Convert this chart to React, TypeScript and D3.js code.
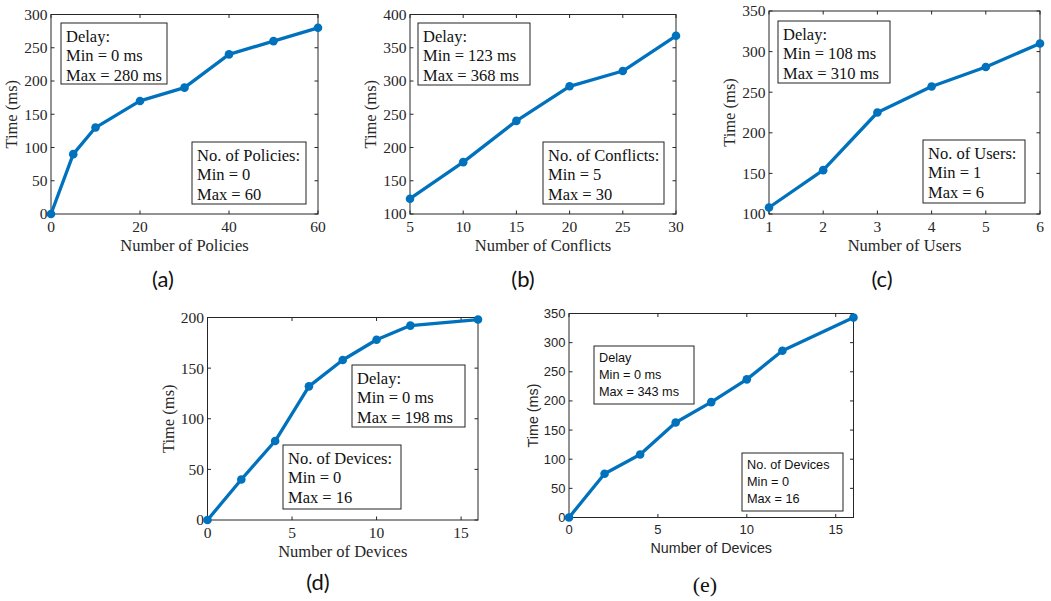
import React from "react";
import * as d3 from "d3";

// ---- data ----
const policiesX = [0, 5, 10, 20, 30, 40, 50, 60];
const policiesY = [0, 90, 130, 170, 190, 240, 260, 280];
const conflictsX = [5, 10, 15, 20, 25, 30];
const conflictsY = [123, 178, 240, 292, 315, 368];
const usersX = [1, 2, 3, 4, 5, 6];
const usersY = [108, 154, 225, 257, 281, 310];
const devicesX = [0, 2, 4, 6, 8, 10, 12, 16];
const devicesY = [0, 40, 78, 132, 158, 178, 192, 198];
const devices2X = [0, 2, 4, 6, 8, 10, 12, 16];
const devices2Y = [0, 75, 108, 163, 198, 237, 286, 343];

const ticksA_X = [0, 20, 40, 60];
const ticksA_Y = [0, 50, 100, 150, 200, 250, 300];
const ticksB_X = [5, 10, 15, 20, 25, 30];
const ticksB_Y = [100, 150, 200, 250, 300, 350, 400];
const ticksC_X = [1, 2, 3, 4, 5, 6];
const ticksC_Y = [100, 150, 200, 250, 300, 350];
const ticksD_X = [0, 5, 10, 15];
const ticksD_Y = [0, 50, 100, 150, 200];
const ticksE_X = [0, 5, 10, 15];
const ticksE_Y = [0, 50, 100, 150, 200, 250, 300, 350];

const SERIF = "'Liberation Serif', 'Times New Roman', serif";
const SANS = "'Liberation Sans', Arial, sans-serif";
const BLUE = "#0072BD";
const AX = "#262626";

type Box = { x: number; y: number; w: number; h: number; lines: string[] };
type Panel = {
  xs: number[]; ys: number[];
  xDom: [number, number]; yDom: [number, number];
  xTicks: number[]; yTicks: number[];
  left: number; right: number; top: number; bottom: number;
  xLabel: string; caption: string; capX: number; capY: number;
  font: string; tickSize: number; labelSize: number; boxSize: number; lineGap: number;
  capFont: string;
  boxes: Box[];
};

const CAPF = "Lato, 'Open Sans', sans-serif";

const panels: Panel[] = [
  {
    xs: policiesX, ys: policiesY, xDom: [0, 60], yDom: [0, 300], xTicks: ticksA_X, yTicks: ticksA_Y,
    left: 51, right: 318, top: 14.5, bottom: 214, xLabel: "Number of Policies", caption: "(a)", capX: 163, capY: 287,
    font: SERIF, tickSize: 15.5, labelSize: 16.5, boxSize: 16.5, lineGap: 19.5, capFont: CAPF,
    boxes: [
      { x: 61, y: 23, w: 106, h: 61, lines: ["Delay:", "Min = 0 ms", "Max = 280 ms"] },
      { x: 192, y: 142, w: 114, h: 62, lines: ["No. of Policies:", "Min = 0", "Max = 60"] },
    ],
  },
  {
    xs: conflictsX, ys: conflictsY, xDom: [5, 30], yDom: [100, 400], xTicks: ticksB_X, yTicks: ticksB_Y,
    left: 410, right: 676, top: 14.5, bottom: 214, xLabel: "Number of Conflicts", caption: "(b)", capX: 523, capY: 287,
    font: SERIF, tickSize: 15.5, labelSize: 16.5, boxSize: 16.5, lineGap: 19.5, capFont: CAPF,
    boxes: [
      { x: 418, y: 23, w: 112, h: 62, lines: ["Delay:", "Min = 123 ms", "Max = 368 ms"] },
      { x: 543, y: 142, w: 121, h: 62, lines: ["No. of Conflicts:", "Min = 5", "Max = 30"] },
    ],
  },
  {
    xs: usersX, ys: usersY, xDom: [1, 6], yDom: [100, 350], xTicks: ticksC_X, yTicks: ticksC_Y,
    left: 769, right: 1040, top: 11, bottom: 214, xLabel: "Number of Users", caption: "(c)", capX: 882, capY: 287,
    font: SERIF, tickSize: 15.5, labelSize: 16.5, boxSize: 16.5, lineGap: 19.5, capFont: CAPF,
    boxes: [
      { x: 778, y: 21, w: 112, h: 62, lines: ["Delay:", "Min = 108 ms", "Max = 310 ms"] },
      { x: 923, y: 140, w: 102, h: 63, lines: ["No. of Users:", "Min = 1", "Max = 6"] },
    ],
  },
  {
    xs: devicesX, ys: devicesY, xDom: [0, 16], yDom: [0, 200], xTicks: ticksD_X, yTicks: ticksD_Y,
    left: 207.5, right: 478, top: 317.5, bottom: 520, xLabel: "Number of Devices", caption: "(d)", capX: 318, capY: 590,
    font: SERIF, tickSize: 15.5, labelSize: 16.5, boxSize: 16.5, lineGap: 19.5, capFont: CAPF,
    boxes: [
      { x: 352, y: 365, w: 113, h: 62, lines: ["Delay:", "Min = 0 ms", "Max = 198 ms"] },
      { x: 283, y: 445, w: 118, h: 64, lines: ["No. of Devices:", "Min = 0", "Max = 16"] },
    ],
  },
  {
    xs: devices2X, ys: devices2Y, xDom: [0, 16], yDom: [0, 350], xTicks: ticksE_X, yTicks: ticksE_Y,
    left: 569, right: 853.5, top: 313.5, bottom: 517.5, xLabel: "Number of Devices", caption: "(e)", capX: 705, capY: 592,
    font: SANS, tickSize: 13, labelSize: 14.3, boxSize: 12.7, lineGap: 17, capFont: SERIF,
    boxes: [
      { x: 594, y: 346, w: 100, h: 58, lines: ["Delay", "Min = 0 ms", "Max = 343 ms"] },
      { x: 742, y: 453, w: 101, h: 58, lines: ["No. of Devices", "Min = 0", "Max = 16"] },
    ],
  },
];

function PanelView({ p }: { p: Panel }) {
  const x = d3.scaleLinear().domain(p.xDom).range([p.left, p.right]);
  const y = d3.scaleLinear().domain(p.yDom).range([p.bottom, p.top]);
  const pts = p.xs.map((v, i) => [x(v), y(p.ys[i])] as [number, number]);
  const line = d3.line()(pts) || "";
  const tl = 3.5;
  const midY = (p.top + p.bottom) / 2;
  const midX = (p.left + p.right) / 2;
  const isSans = p.font === SANS;
  return (
    <g>
      {p.xTicks.map((t) => (
        <g key={"xt" + t}>
          <line x1={x(t)} x2={x(t)} y1={p.bottom} y2={p.bottom - tl} stroke={AX} strokeWidth={1} />
          <line x1={x(t)} x2={x(t)} y1={p.top} y2={p.top + tl} stroke={AX} strokeWidth={1} />
          <text x={x(t)} y={p.bottom + (isSans ? 16 : 18)} textAnchor="middle" fontFamily={p.font} fontSize={p.tickSize} fill={AX}>{t}</text>
        </g>
      ))}
      {p.yTicks.map((t) => (
        <g key={"yt" + t}>
          <line x1={p.left} x2={p.left + tl} y1={y(t)} y2={y(t)} stroke={AX} strokeWidth={1} />
          <line x1={p.right} x2={p.right - tl} y1={y(t)} y2={y(t)} stroke={AX} strokeWidth={1} />
          <text x={p.left - 3.5} y={y(t)} dy="0.35em" textAnchor="end" fontFamily={p.font} fontSize={p.tickSize} fill={AX}>{t}</text>
        </g>
      ))}
      <rect x={p.left} y={p.top} width={p.right - p.left} height={p.bottom - p.top} fill="none" stroke={AX} strokeWidth={1} />
      <text x={midX} y={p.bottom + (isSans ? 35 : 37)} textAnchor="middle" fontFamily={p.font} fontSize={p.labelSize} fill={AX}>{p.xLabel}</text>
      <text transform={`translate(${p.left - (isSans ? 31 : 34)},${midY}) rotate(-90)`} textAnchor="middle" fontFamily={p.font} fontSize={p.labelSize} fill={AX}>Time (ms)</text>
      <path d={line} fill="none" stroke={BLUE} strokeWidth={3.3} strokeLinejoin="round" />
      {pts.map((pt, i) => (
        <circle key={i} cx={pt[0]} cy={pt[1]} r={4.3} fill={BLUE} />
      ))}
      {p.boxes.map((b, i) => (
        <g key={"b" + i}>
          <rect x={b.x} y={b.y} width={b.w} height={b.h} fill="white" stroke="#222" strokeWidth={1} />
          {b.lines.map((l, j) => (
            <text key={j} x={b.x + 5} y={b.y + (isSans ? 16 : 18.5) + j * p.lineGap} fontFamily={p.font} fontSize={p.boxSize} fill="#111">{l}</text>
          ))}
        </g>
      ))}
      <text x={p.capX} y={p.capY} textAnchor="middle" fontFamily={p.capFont} fontSize={22} fill="#111">{p.caption}</text>
    </g>
  );
}

export default function App() {
  return (
    <svg width={1051} height={601} style={{ position: "absolute", left: 0, top: 0, background: "white" }}>
      <rect width={1051} height={601} fill="white" />
      {panels.map((p, i) => (
        <PanelView key={i} p={p} />
      ))}
    </svg>
  );
}
